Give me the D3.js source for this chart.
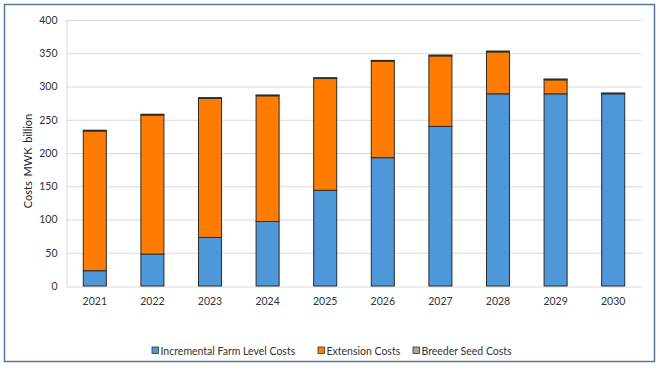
<!DOCTYPE html>
<html><head><meta charset="utf-8">
<script src="https://cdn.jsdelivr.net/npm/d3@7"></script>
<style>body{margin:0;background:#fff}svg{display:block}text{font-family:Lato,"Liberation Sans",sans-serif}</style>
</head><body><svg id="c" width="660" height="370"></svg>
<script>
const years = ["2021","2022","2023","2024","2025","2026","2027","2028","2029","2030"];
const incrementalFarm = [23, 48, 73, 97, 144, 193, 240, 289, 289, 289];
const extension = [210, 209, 209, 189, 168, 145, 106, 63, 21, 0];
const breederSeed = [1.3, 1.3, 1.3, 1.3, 1.3, 1.3, 1.3, 1.3, 1.3, 1.3];
const seriesNames = ["Incremental Farm Level Costs", "Extension Costs", "Breeder Seed Costs"];
const seriesColors = ["#4e97d8", "#ff7c00", "#a5a5a5"];
const yTicks = [0, 50, 100, 150, 200, 250, 300, 350, 400];
const yTitle = "Costs MWK billion";

const svg = d3.select("#c");
svg.append("rect").attr("x",4.5).attr("y",4.5).attr("width",650).attr("height",357)
  .attr("fill","#fff").attr("stroke","#55779e").attr("stroke-width",1.5);

const m = {l:66, r:642, t:20, b:286};
const x = d3.scaleBand().domain(years).range([m.l, m.r]).paddingInner(0.6).paddingOuter(0.3);
const y = d3.scaleLinear().domain([0,400]).range([m.b, m.t]);

// gridlines
svg.append("g").selectAll("line").data(yTicks.filter(d=>d>0)).join("line")
  .attr("x1",m.l).attr("x2",m.r).attr("y1",d=>y(d)+0.5).attr("y2",d=>y(d)+0.5)
  .attr("stroke","#d9d9d9").attr("stroke-width",1);

// y axis
const ya = svg.append("g").attr("transform",`translate(${m.l+0.5},0)`)
  .call(d3.axisLeft(y).tickValues(yTicks).tickSize(0).tickPadding(9));
ya.select(".domain").attr("stroke","#d9d9d9");
ya.selectAll("text").attr("font-size",10.5).attr("fill","#333");

// x axis
const xa = svg.append("g").attr("transform",`translate(0,${m.b+0.5})`)
  .call(d3.axisBottom(x).tickSize(0).tickPadding(11));
xa.select(".domain").attr("stroke","#d9d9d9");
xa.selectAll("text").attr("font-size",10.5).attr("fill","#333");

// stacked data
const rows = years.map((yr,i)=>({year:yr, s0:incrementalFarm[i], s1:extension[i], s2:breederSeed[i]}));
const stack = d3.stack().keys(["s0","s1","s2"])(rows);
svg.append("g").selectAll("g").data(stack).join("g")
  .attr("fill",(d,i)=>seriesColors[i])
  .selectAll("rect").data(d=>d.filter(p=>p[1]-p[0]>0)).join("rect")
  .attr("x",d=>x(d.data.year)).attr("width",x.bandwidth())
  .attr("y",d=>y(d[1])).attr("height",d=>y(d[0])-y(d[1]))
  .attr("stroke","#2b2b2b").attr("stroke-width",1);

// y title
svg.append("text").attr("transform",`translate(32,${(m.t+m.b)/2+8}) rotate(-90)`)
  .attr("text-anchor","middle").attr("font-size",11).attr("fill","#222")
  .attr("word-spacing",2).text(yTitle);

// legend
const legX = [152, 318, 413];
const lg = svg.append("g");
seriesNames.forEach((n,i)=>{
  lg.append("rect").attr("x",legX[i]).attr("y",347).attr("width",6.5).attr("height",6.5)
    .attr("fill",seriesColors[i]).attr("stroke","#333").attr("stroke-width",0.8);
  lg.append("text").attr("x",legX[i]+8.5).attr("y",354.5).attr("font-size",10.5).attr("fill","#333").text(n);
});
</script></body></html>
